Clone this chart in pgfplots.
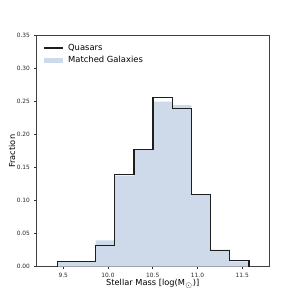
\documentclass[border=0pt]{standalone}
\usepackage{fontspec}
\setmainfont{DejaVu Sans}
\usepackage{pgfplots}
\pgfplotsset{compat=1.18}
\definecolor{fillblue}{RGB}{206,218,234}
\definecolor{qline}{RGB}{30,30,30}
\begin{document}
\begin{tikzpicture}
\begin{axis}[
  scale only axis,
  width=174.2pt, height=173.3pt,
  xmin=9.203, xmax=11.798,
  ymin=0, ymax=0.35,
  xtick={9.5,10.0,10.5,11.0,11.5},
  ytick={0,0.05,0.10,0.15,0.20,0.25,0.30,0.35},
  xticklabel style={yshift=0.6pt, /pgf/number format/.cd,fixed,fixed zerofill,precision=1},
  yticklabel style={xshift=0.5pt, /pgf/number format/.cd,fixed,fixed zerofill,precision=2},
  /pgf/number format/assume math mode=true,
  tick label style={font=\fontsize{4.4}{5.3}\selectfont, text=black!85},
  tick align=outside, tick pos=left,
  major tick length=2pt,
  every tick/.style={black!80, line width=0.4pt},
  axis line style={black!75, line width=0.5pt},
  xlabel={Stellar Mass [log(M$_\odot$)]},
  ylabel={Fraction},
  label style={font=\fontsize{6.2}{7}\selectfont},
  xlabel style={at={(axis description cs:0.5,-0.074)}, anchor=center},
  ylabel style={at={(axis description cs:-0.106,0.5)}, anchor=center},
  reverse legend,
  legend style={at={(axis description cs:0.027,0.972)}, anchor=north west,
    draw=none, fill=none, inner sep=0pt, row sep=1.2pt,
    font=\fontsize{6.3}{7}\selectfont, cells={anchor=west},
    nodes={inner sep=1pt}},
]
\addplot[const plot, fill=fillblue, draw=none,
  legend image code/.code={\fill[fillblue] (0pt,-2.2pt) rectangle (14.3pt,2.2pt); \path (16.8pt,0pt);}]
  coordinates {(9.433,0) (9.433,0.008) (9.647,0.008) (9.861,0.040) (10.076,0.138)
  (10.290,0.177) (10.504,0.250) (10.718,0.245) (10.933,0.109) (11.147,0.026)
  (11.361,0.008) (11.575,0)} \closedcycle;
\addlegendentry{Matched Galaxies}
\addplot[const plot, draw=qline, line width=0.9pt,
  legend image code/.code={\draw[qline, line width=0.9pt] (0pt,0pt) -- (14.3pt,0pt); \path (16.8pt,0pt);}]
  coordinates {(9.433,0) (9.433,0.008) (9.647,0.008) (9.861,0.032) (10.076,0.140)
  (10.290,0.178) (10.504,0.256) (10.718,0.240) (10.933,0.110) (11.147,0.025)
  (11.361,0.009) (11.575,0)};
\addlegendentry{Quasars}
\end{axis}
\path ([shift={(-27.5pt,-24.2pt)}]current axis.south west) rectangle ([shift={(22.5pt,26.8pt)}]current axis.north east);
\end{tikzpicture}
\end{document}
